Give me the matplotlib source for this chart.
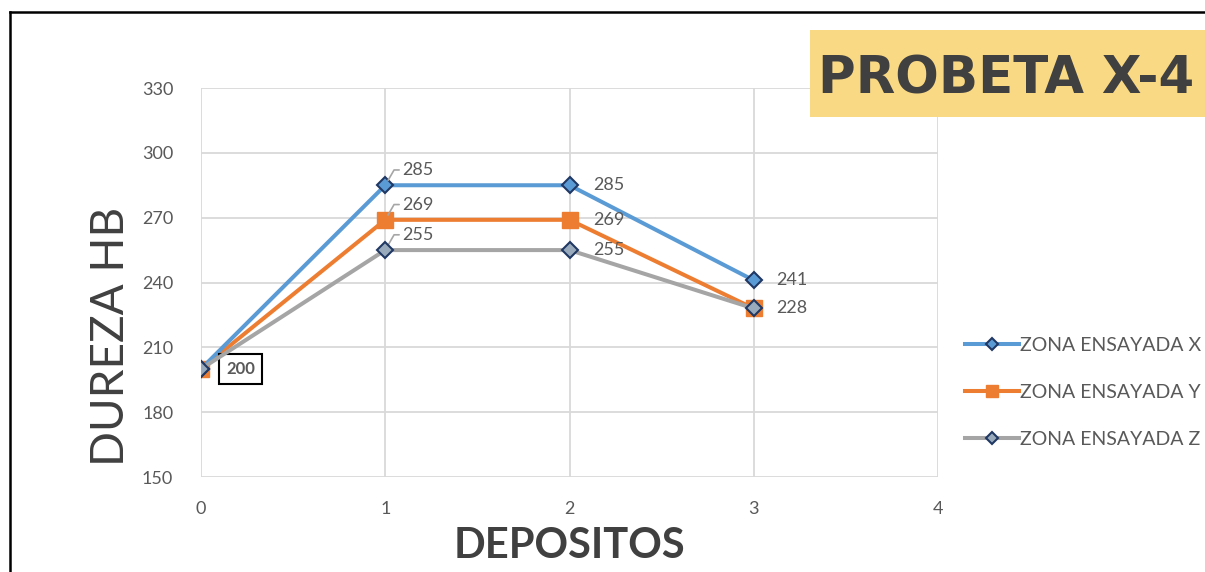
import matplotlib
matplotlib.use("Agg")
import matplotlib.pyplot as plt
from matplotlib.lines import Line2D
from matplotlib.patches import Rectangle

# Hardness readings per deposit for each tested zone
depositos = [0, 1, 2, 3]
zona_x = [200, 285, 285, 241]
zona_y = [200, 269, 269, 228]
zona_z = [200, 255, 255, 228]
series_labels = ["ZONA ENSAYADA X", "ZONA ENSAYADA Y", "ZONA ENSAYADA Z"]
y_ticks = [150, 180, 210, 240, 270, 300, 330]
x_ticks = [0, 1, 2, 3, 4]
titulo = "PROBETA X-4"

plt.rcParams["font.family"] = ["Lato", "DejaVu Sans"]
GRAY_TXT = "#595959"
DARK_TXT = "#404040"
NAVY = "#203864"

fig = plt.figure(figsize=(12.05, 5.72), dpi=100)
fig.patch.set_facecolor("white")
ax = fig.add_axes([201/1205, 1-477/572, (938-201)/1205, (477-88)/572])

ax.plot(depositos, zona_x, color="#5B9BD5", lw=2.9, marker="D", ms=8,
        mfc="#5B9BD5", mec=NAVY, mew=1.5, label=series_labels[0], zorder=3)
ax.plot(depositos, zona_y, color="#ED7D31", lw=2.9, marker="s", ms=11,
        mfc="#ED7D31", mec="#ED7D31", label=series_labels[1], zorder=2)
ax.plot(depositos, zona_z, color="#A5A5A5", lw=2.9, marker="D", ms=8,
        mfc="#98AABB", mec=NAVY, mew=1.5, label=series_labels[2], zorder=4)

ax.set_xlim(0, 4)
ax.set_ylim(150, 330)
ax.set_xticks(x_ticks)
ax.set_yticks(y_ticks)
ax.grid(True, color="#D9D9D9", lw=1.3)
ax.set_axisbelow(True)
for s in ax.spines.values():
    s.set_visible(False)
ax.tick_params(length=0, labelsize=13, labelcolor=GRAY_TXT)
ax.tick_params(axis="y", pad=20)
ax.tick_params(axis="x", pad=17)

# Value labels
lab_kw = dict(fontsize=13, color=GRAY_TXT, va="center", ha="left",
              textcoords="offset points")
leader = dict(arrowstyle="-", color="#A6A6A6", lw=1.2, shrinkA=0, shrinkB=4,
              connectionstyle="angle,angleA=0,angleB=60,rad=0", relpos=(0, 0.5))
for series in (zona_x, zona_y, zona_z):
    ax.annotate(str(series[1]), (depositos[1], series[1]), xytext=(12, 11),
                arrowprops=leader, **lab_kw)
for series in (zona_x, zona_y, zona_z):
    ax.annotate(str(series[2]), (depositos[2], series[2]), xytext=(17, 0), **lab_kw)
for series in (zona_x, zona_y):
    ax.annotate(str(series[3]), (depositos[3], series[3]), xytext=(16, 0), **lab_kw)
ax.annotate(str(zona_x[0]), (depositos[0], zona_x[0]), xytext=(18, 0),
            fontsize=12, fontweight="bold", color=GRAY_TXT, va="center",
            ha="left", textcoords="offset points",
            bbox=dict(boxstyle="square,pad=0.42", fc="white", ec="black", lw=1.5))

ax.set_ylabel("DUREZA HB", fontsize=33, color=DARK_TXT, va="center")
ax.yaxis.set_label_coords((111-201)/737, (477-336)/389)
ax.set_xlabel("DEPOSITOS", fontsize=30, fontweight="bold", color=DARK_TXT)
ax.xaxis.set_label_coords(0.5, -(546-477)/389)
ax.xaxis.label.set_va("center")

leg = ax.legend(loc="upper left", bbox_to_anchor=(957/1205, 1-329/572),
                bbox_transform=fig.transFigure, frameon=False, fontsize=14,
                handlelength=2.8, handletextpad=0.05, labelspacing=1.55,
                markerscale=0.8, borderaxespad=0)
for t in leg.get_texts():
    t.set_color(GRAY_TXT)

# Title banner
fig.patches.append(Rectangle((810/1205, 1-117/572), 400/1205, 87/572,
                             transform=fig.transFigure, fc="#FAD985", ec="none"))
fig.text(818/1205, 1-79/572, titulo, fontsize=37, fontweight="bold",
         color=DARK_TXT, ha="left", va="center", family=["DejaVu Sans"])

# Frame edges
fig.add_artist(Line2D([10/1205, 10/1205], [0, 1-12/572], transform=fig.transFigure,
                      color="black", lw=1.8))
fig.add_artist(Line2D([10/1205, 1], [1-12/572, 1-12/572], transform=fig.transFigure,
                      color="black", lw=1.8))

fig.savefig("out.png", dpi=100)
